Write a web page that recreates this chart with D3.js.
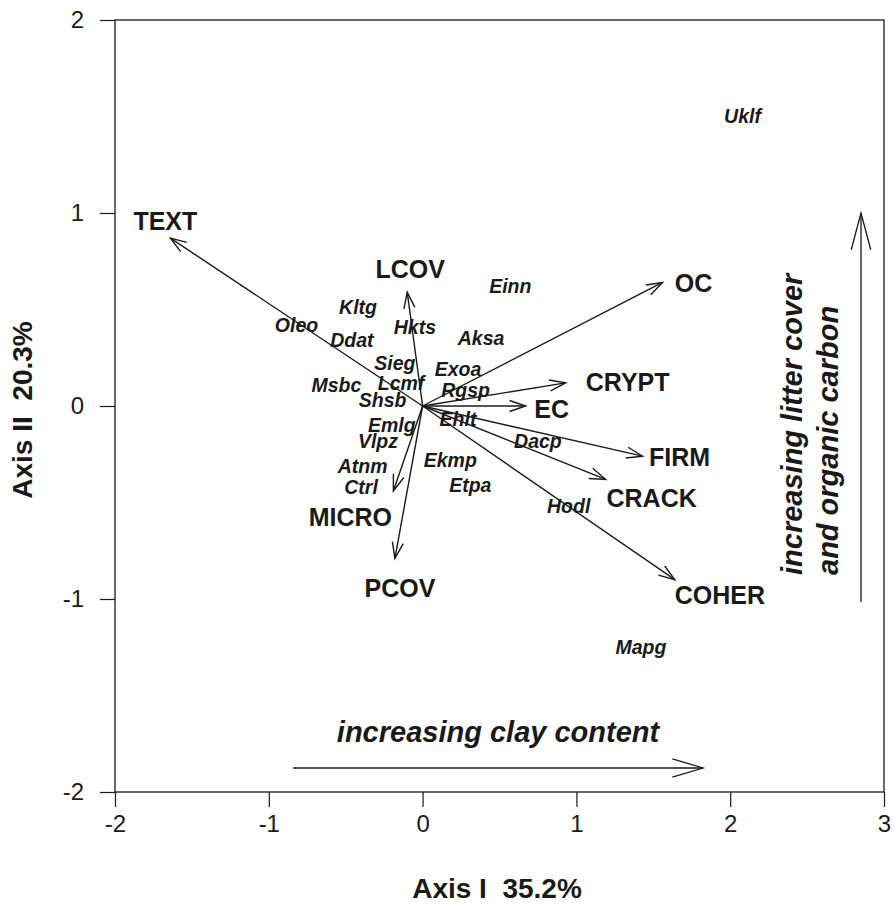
<!DOCTYPE html>
<html>
<head>
<meta charset="utf-8">
<script src="https://cdn.jsdelivr.net/npm/d3@7"></script>
<style>
  html, body { margin: 0; padding: 0; background: #fff; }
  svg { display: block; font-family: "Liberation Sans", Arial, Helvetica, sans-serif; }
</style>
</head>
<body>
<svg id="chart" width="894" height="905"></svg>
<script>
// ---- data ----
const envNames = ["TEXT", "LCOV", "OC", "CRYPT", "EC", "FIRM", "CRACK", "COHER", "PCOV", "MICRO"];
const envAxis1 = [-1.64, -0.10, 1.56, 0.93, 0.67, 1.43, 1.19, 1.64, -0.18, -0.19];
const envAxis2 = [0.87, 0.59, 0.64, 0.12, 0.00, -0.26, -0.38, -0.90, -0.79, -0.44];

const speciesNames = ["Uklf", "Einn", "Kltg", "Oleo", "Hkts", "Ddat", "Aksa", "Sieg", "Exoa", "Msbc",
  "Lcmf", "Rgsp", "Shsb", "Emlg", "Ehlt", "Dacp", "Vlpz", "Atnm", "Ekmp", "Etpa", "Ctrl", "Hodl", "Mapg"];
const speciesAxis1 = [2.08, 0.57, -0.42, -0.82, -0.05, -0.46, 0.38, -0.18, 0.23, -0.56,
  -0.14, 0.28, -0.26, -0.20, 0.23, 0.75, -0.29, -0.39, 0.18, 0.31, -0.40, 0.95, 1.42];
const speciesAxis2 = [1.50, 0.62, 0.51, 0.42, 0.41, 0.34, 0.35, 0.22, 0.19, 0.11,
  0.12, 0.08, 0.03, -0.10, -0.07, -0.18, -0.18, -0.31, -0.28, -0.41, -0.42, -0.52, -1.25];

const xTicks = [-2, -1, 0, 1, 2, 3];
const yTicks = [-2, -1, 0, 1, 2];
const xTitle = "Axis I\u00a0\u00a035.2%";
const yTitle = "Axis II\u00a0\u00a020.3%";
const clayText = "increasing clay content";
const litterText = ["increasing litter cover", "and organic carbon"];

// ---- layout (pixel offsets for labels, kept out of data) ----
const envLabelOffset = {
  TEXT: [-5, -8], LCOV: [3, -14], OC: [31, 10], CRYPT: [62, 8], EC: [26, 12],
  FIRM: [37, 10], CRACK: [46, 28], COHER: [45, 24], PCOV: [5, 39], MICRO: [-43, 35]
};

const svg = d3.select("#chart");
const mLeft = 115, mRight = 884, mTop = 20, mBottom = 792;
const x = d3.scaleLinear().domain([-2, 3]).range([mLeft, mRight]);
const y = d3.scaleLinear().domain([-2, 2]).range([mBottom, mTop]);
const ink = "#1a1a1a";

// frame
svg.append("rect").attr("x", mLeft).attr("y", mTop)
  .attr("width", mRight - mLeft).attr("height", mBottom - mTop)
  .attr("fill", "none").attr("stroke", ink).attr("stroke-width", 1.3);

// axes
const xAxis = svg.append("g").attr("transform", `translate(0,${mBottom})`)
  .call(d3.axisBottom(x).tickValues(xTicks).tickSize(15).tickPadding(8).tickFormat(d3.format("d")));
const yAxis = svg.append("g").attr("transform", `translate(${mLeft},0)`)
  .call(d3.axisLeft(y).tickValues(yTicks).tickSize(15).tickPadding(16).tickFormat(d3.format("d")));
[xAxis, yAxis].forEach(g => {
  g.select(".domain").remove();
  g.selectAll(".tick line").attr("stroke", ink).attr("stroke-width", 1.2);
  g.selectAll(".tick text").attr("fill", ink)
    .style("font-size", "24px").style("font-family", "'Liberation Sans', Arial, sans-serif")
    .text(d => d < 0 ? "-" + Math.abs(d) : String(d));
});

// axis titles
svg.append("text").attr("x", 497).attr("y", 898).attr("text-anchor", "middle")
  .attr("fill", ink).style("font-size", "28px").style("font-weight", "bold").text(xTitle);
svg.append("text").attr("transform", "translate(32,410) rotate(-90)").attr("text-anchor", "middle")
  .attr("fill", ink).style("font-size", "28px").style("font-weight", "bold").text(yTitle);

// arrow helper (open V head)
function arrow(g, x1, y1, x2, y2, headLen, halfAngle, sw) {
  g.append("line").attr("x1", x1).attr("y1", y1).attr("x2", x2).attr("y2", y2)
    .attr("stroke", ink).attr("stroke-width", sw);
  const a = Math.atan2(y2 - y1, x2 - x1);
  const p1 = [x2 - headLen * Math.cos(a - halfAngle), y2 - headLen * Math.sin(a - halfAngle)];
  const p2 = [x2 - headLen * Math.cos(a + halfAngle), y2 - headLen * Math.sin(a + halfAngle)];
  g.append("path").attr("d", `M${p1[0]},${p1[1]}L${x2},${y2}L${p2[0]},${p2[1]}`)
    .attr("fill", "none").attr("stroke", ink).attr("stroke-width", sw);
}

// environmental vectors
const envG = svg.append("g");
envNames.forEach((n, i) => {
  arrow(envG, x(0), y(0), x(envAxis1[i]), y(envAxis2[i]), 17, 0.33, 1.4);
});
svg.append("g").selectAll("text").data(envNames).join("text")
  .attr("x", (d, i) => x(envAxis1[i]) + envLabelOffset[d][0])
  .attr("y", (d, i) => y(envAxis2[i]) + envLabelOffset[d][1])
  .attr("text-anchor", "middle").attr("fill", ink)
  .style("font-size", "25px").style("font-weight", "bold").text(d => d);

// species labels
svg.append("g").selectAll("text").data(speciesNames).join("text")
  .attr("x", (d, i) => x(speciesAxis1[i]))
  .attr("y", (d, i) => y(speciesAxis2[i]))
  .attr("dy", "0.35em")
  .attr("text-anchor", "middle").attr("fill", ink)
  .style("font-size", "19.5px").style("font-weight", "bold").style("font-style", "italic")
  .text(d => d);

// annotations
const annG = svg.append("g");
annG.append("text").attr("x", 498).attr("y", 742).attr("text-anchor", "middle").attr("fill", ink)
  .style("font-size", "29px").style("font-weight", "bold").style("font-style", "italic").text(clayText);
arrow(annG, 293, 768, 703, 768, 32, 0.29, 1.3);

annG.append("text").attr("transform", "translate(802,575) rotate(-90)").attr("text-anchor", "start")
  .attr("fill", ink).style("font-size", "29px").style("font-weight", "bold").style("font-style", "italic")
  .text(litterText[0]);
annG.append("text").attr("transform", "translate(838,575) rotate(-90)").attr("text-anchor", "start")
  .attr("fill", ink).style("font-size", "29px").style("font-weight", "bold").style("font-style", "italic")
  .text(litterText[1]);
arrow(annG, 861, 602, 861, 213, 38, 0.26, 1.3);
</script>
</body>
</html>
